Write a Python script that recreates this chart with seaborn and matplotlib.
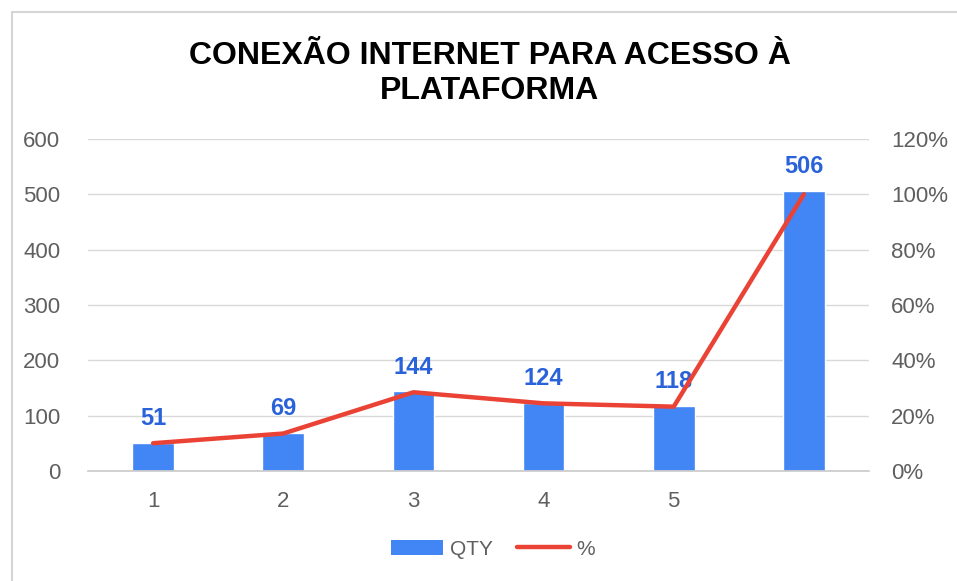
import matplotlib
matplotlib.use("Agg")
import matplotlib.pyplot as plt
import seaborn as sns
import pandas as pd
from matplotlib.patches import Patch, Rectangle
from matplotlib.lines import Line2D
from matplotlib.ticker import FuncFormatter

# ---- data ----
categories = ["1", "2", "3", "4", "5", "6"]
tick_labels = ["1", "2", "3", "4", "5", ""]
qty = [51, 69, 144, 124, 118, 506]
pct = [10.1, 13.6, 28.5, 24.5, 23.3, 100.0]

bar_color = "#4285f4"
line_color = "#ea4335"
label_color = "#2a62d9"
tick_color = "#5f5f5f"

sns.set_theme(style="white")
plt.rcParams['font.family'] = ['Liberation Sans', 'DejaVu Sans']

df = pd.DataFrame({"cat": categories, "qty": qty, "pct": pct})
df["pos"] = range(len(df))

fig = plt.figure(figsize=(9.57, 5.81), dpi=100)
ax = fig.add_axes([0.092, 0.189, 0.816, 0.572])

sns.barplot(data=df, x="cat", y="qty", color=bar_color, width=0.32,
            saturation=1, ax=ax, zorder=2)
ax.set_xlim(-0.5, 5.5)
ax.set_ylim(0, 600)
ax.set_yticks(range(0, 601, 100))
ax.yaxis.grid(True, color="#d9d9d9", linewidth=1, zorder=0)
ax.set_axisbelow(True)
ax.set_xticks(range(6))
ax.set_xticklabels(tick_labels)
ax.set_xlabel("")
ax.set_ylabel("")
ax.tick_params(axis="both", colors=tick_color, labelsize=16, length=0)
ax.tick_params(axis="x", pad=14)
ax.tick_params(axis="y", pad=20)
for s in ["top", "right", "left"]:
    ax.spines[s].set_visible(False)
ax.spines["bottom"].set_color("#cccccc")

for p, v in zip(df["pos"], df["qty"]):
    ax.annotate(str(v), (p, v), xytext=(0, 9), textcoords="offset points",
                ha="center", va="bottom", fontsize=17, fontweight="bold",
                color=label_color)

ax2 = ax.twinx()
sns.lineplot(data=df, x="pos", y="pct", color=line_color, linewidth=3.2,
             ax=ax2, zorder=3)
ax2.set_ylim(0, 120)
ax2.set_yticks(range(0, 121, 20))
ax2.yaxis.set_major_formatter(FuncFormatter(lambda v, _: f"{v:.0f}%"))
ax2.set_ylabel("")
ax2.set_xlabel("")
ax2.tick_params(axis="y", colors=tick_color, labelsize=16, length=0, pad=16)
for s in ["top", "right", "left", "bottom"]:
    ax2.spines[s].set_visible(False)

fig.suptitle("CONEXÃO INTERNET PARA ACESSO À\nPLATAFORMA", x=0.512, y=0.93,
             fontsize=23, fontweight="bold", color="black", linespacing=1.25)

handles = [Patch(facecolor=bar_color, edgecolor="none"),
           Line2D([0], [0], color=line_color, linewidth=3.2, solid_capstyle="round")]
fig.legend(handles, ["QTY", "%"], loc="center", bbox_to_anchor=(0.515, 0.055),
           ncol=2, frameon=False, fontsize=15, handlelength=2.5,
           columnspacing=1.2, handletextpad=0.3, labelcolor=tick_color)

# outer frame of the chart box
fig.patches.append(Rectangle((12 / 957, -0.1), 1.2, 1 - 12 / 581 + 0.1,
                             transform=fig.transFigure, fill=False,
                             edgecolor="#d5d5d5", linewidth=1.5))

fig.savefig("out.png", dpi=100)
